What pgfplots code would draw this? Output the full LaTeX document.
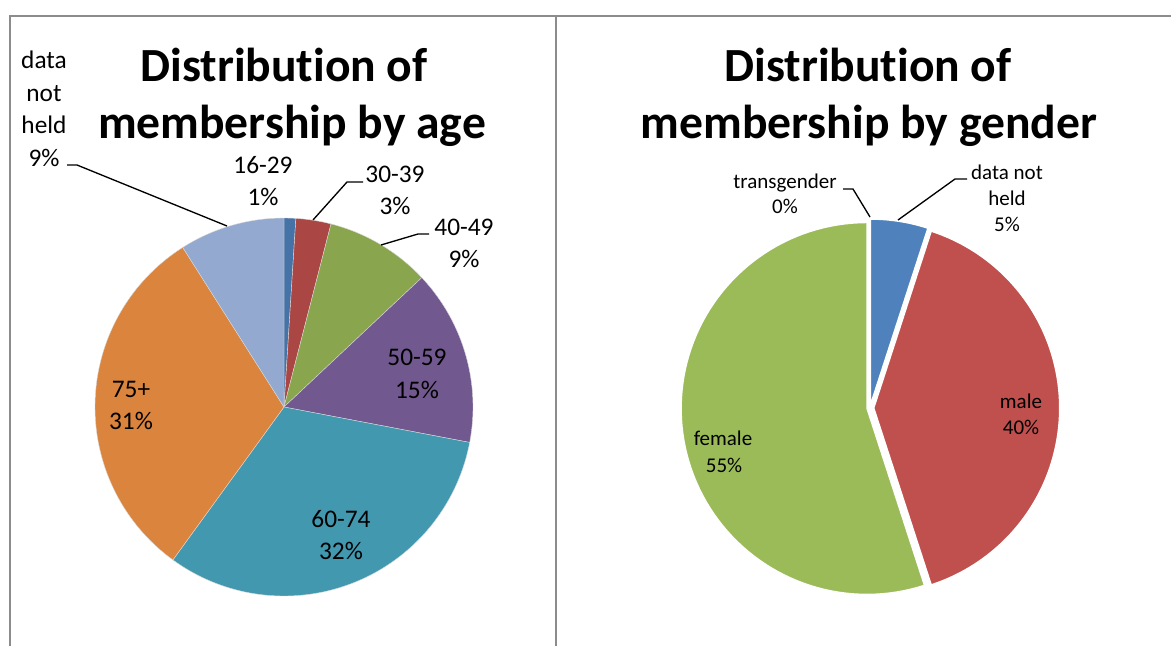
\documentclass[border=0pt]{standalone}
\usepackage{pgfplots}
\pgfplotsset{compat=1.18}
\usepackage{fontspec}
\setmainfont{Carlito}[RawFeature={-liga;-clig;-dlig;-calt}]
% age chart colours
\definecolor{agA}{HTML}{4572A7}
\definecolor{agB}{HTML}{AA4643}
\definecolor{agC}{HTML}{89A54E}
\definecolor{agD}{HTML}{71588F}
\definecolor{agE}{HTML}{4198AF}
\definecolor{agF}{HTML}{DB843D}
\definecolor{agG}{HTML}{93A9CF}
% gender chart colours
\definecolor{gnA}{HTML}{4F81BD}
\definecolor{gnB}{HTML}{C0504D}
\definecolor{gnC}{HTML}{9BBB59}
\definecolor{frame}{HTML}{8C8C8C}
% #1 start %, #2 end %, #3 colour, #4 explode (axis units), #5 border colour, #6 border width
\newcommand\pieslice[6]{%
  \addplot[fill=#3, draw=#5, line width=#6, line join=round,
    domain={90-3.6*(#2)}:{90-3.6*(#1)}, samples=90]
    ({#4*cos(90-1.8*((#1)+(#2)))+cos(x)}, {#4*sin(90-1.8*((#1)+(#2)))+sin(x)})
    -- (axis cs:{#4*cos(90-1.8*((#1)+(#2)))},{#4*sin(90-1.8*((#1)+(#2)))}) -- cycle;
}
\newcommand\titlefont{\fontsize{35.7}{42}\selectfont\bfseries}
\newcommand\agefont{\fontsize{19}{24}\selectfont}
\newcommand\genfont{\fontsize{15.75}{19.5}\selectfont}
\begin{document}
\begin{tikzpicture}[x=0.75pt,y=-0.75pt]
\useasboundingbox (0,0) rectangle (1171,646);
% frames
\draw[frame, line width=1.5pt] (10,646) -- (10,16) -- (1171,16);
\draw[frame, line width=2.2pt] (556,16) -- (556,646);

% ---------------- age pie ----------------
\begin{axis}[at={(213pt,-305.25pt)}, anchor=center, scale only axis,
  width=283.5pt, height=283.5pt, xmin=-1, xmax=1, ymin=-1, ymax=1,
  hide axis, clip=false]
% cumulative percentages: 16-29 1, 30-39 3, 40-49 9, 50-59 15, 60-74 32, 75+ 31, data not held 9
\pieslice{0}{1}{agA}{0}{white!85!black}{0.3pt}
\pieslice{1}{4}{agB}{0}{white!85!black}{0.3pt}
\pieslice{4}{13}{agC}{0}{white!85!black}{0.3pt}
\pieslice{13}{28}{agD}{0}{white!85!black}{0.3pt}
\pieslice{28}{60}{agE}{0}{white!85!black}{0.3pt}
\pieslice{60}{91}{agF}{0}{white!85!black}{0.3pt}
\pieslice{91}{100}{agG}{0}{white!85!black}{0.3pt}
\end{axis}

% ---------------- gender pie ----------------
\begin{axis}[at={(652.5pt,-306pt)}, anchor=center, scale only axis,
  width=279pt, height=279pt, xmin=-1, xmax=1, ymin=-1, ymax=1,
  hide axis, clip=false]
% data not held 5, male 40, female 55, transgender 0
\pieslice{0}{5}{gnA}{0.016}{white}{1.1pt}
\pieslice{5}{45}{gnB}{0.02}{white}{1.1pt}
\pieslice{45}{100}{gnC}{0.016}{white}{1.1pt}
\end{axis}

% titles
\node[anchor=base, inner sep=0pt, font=\titlefont] at (284,81) {Distribution of};
\node[anchor=base, inner sep=0pt, font=\titlefont] at (292,138) {membership by age};
\node[anchor=base, inner sep=0pt, font=\titlefont] at (868,81) {Distribution of};
\node[anchor=base, inner sep=0pt, font=\titlefont] at (869,138) {membership by gender};

% age labels
\begin{scope}[every node/.style={anchor=base, inner sep=0pt, font=\agefont}]
\node at (44,68) {data};
\node at (44,101) {not};
\node at (44,133) {held};
\node at (44,166) {9\%};
\node at (263,173) {16-29};
\node at (263,205) {1\%};
\node at (395,182) {30-39};
\node at (395,214) {3\%};
\node at (464,235) {40-49};
\node at (464,267) {9\%};
\node at (417,365) {50-59};
\node at (417,398) {15\%};
\node at (131,397) {75+};
\node at (131,429) {31\%};
\node at (341,527) {60-74};
\node at (341,559) {32\%};
\end{scope}
\draw[black, line width=1pt] (67,165) -- (77,165) -- (227,226);
\draw[black, line width=1pt] (363,182) -- (347,182) -- (313,220);
\draw[black, line width=1pt] (429,234) -- (418,234) -- (381,245);

% gender labels
\begin{scope}[every node/.style={anchor=base, inner sep=0pt, font=\genfont}]
\node at (785,188) {transgender};
\node at (785,213) {0\%};
\node at (1007,179) {data not};
\node at (1007,205) {held};
\node at (1007,231) {5\%};
\node at (1021,408) {male};
\node at (1021,434) {40\%};
\node at (723,445) {female};
\node at (724,472) {55\%};
\end{scope}
\draw[black, line width=1pt] (843,189) -- (853,189) -- (870,217);
\draw[black, line width=1pt] (967,179) -- (955,179) -- (898,220);
\end{tikzpicture}
\end{document}
